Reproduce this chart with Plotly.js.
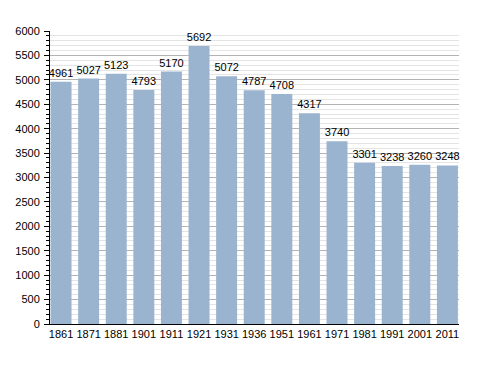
<!DOCTYPE html>
<html>
<head>
<meta charset="utf-8">
<script src="https://cdn.plot.ly/plotly-3.0.1.min.js"></script>
<style>html,body{margin:0;padding:0;background:#fff;}#chart{width:488px;height:373px;}</style>
</head>
<body>
<div id="chart"></div>
<script>
const years = ["1861","1871","1881","1901","1911","1921","1931","1936","1951","1961","1971","1981","1991","2001","2011"];
const population = [4961,5027,5123,4793,5170,5692,5072,4787,4708,4317,3740,3301,3238,3260,3248];

const trace = {
  type: 'bar',
  x: years,
  y: population,
  text: population.map(String),
  textposition: 'outside',
  constraintext: 'none',
  cliponaxis: false,
  textfont: {family: 'Liberation Sans, Arial, sans-serif', size: 11, color: '#000'},
  marker: {color: '#9ab3cf', line: {width: 0}},
  hoverinfo: 'none'
};

const layout = {
  width: 488, height: 373,
  margin: {l: 50, r: 29, t: 31, b: 49, pad: 0},
  paper_bgcolor: '#fff', plot_bgcolor: '#fff',
  bargap: 0.24,
  showlegend: false,
  font: {family: 'Liberation Sans, Arial, sans-serif', size: 11, color: '#000'},
  xaxis: {
    type: 'category',
    range: [-0.4, 14.42],
    showline: true, linecolor: '#000', linewidth: 1,
    ticks: '', showgrid: false, zeroline: false,
    tickfont: {size: 11, color: '#000'},
    fixedrange: true
  },
  yaxis: {
    range: [0, 6000],
    dtick: 500, tick0: 0,
    showline: true, linecolor: '#000', linewidth: 1,
    ticks: 'outside', ticklen: 5, tickcolor: '#000', tickwidth: 1,
    showgrid: true, gridcolor: '#b4b4b4', gridwidth: 1,
    zeroline: false,
    minor: {dtick: 100, tick0: 0, ticks: 'outside', ticklen: 3, tickcolor: '#000', showgrid: true, gridcolor: '#e4e4e4', gridwidth: 1},
    tickfont: {size: 11, color: '#000'},
    ticklabelstandoff: 2,
    fixedrange: true
  }
};

Plotly.newPlot('chart', [trace], layout, {staticPlot: true, displayModeBar: false});
</script>
</body>
</html>
